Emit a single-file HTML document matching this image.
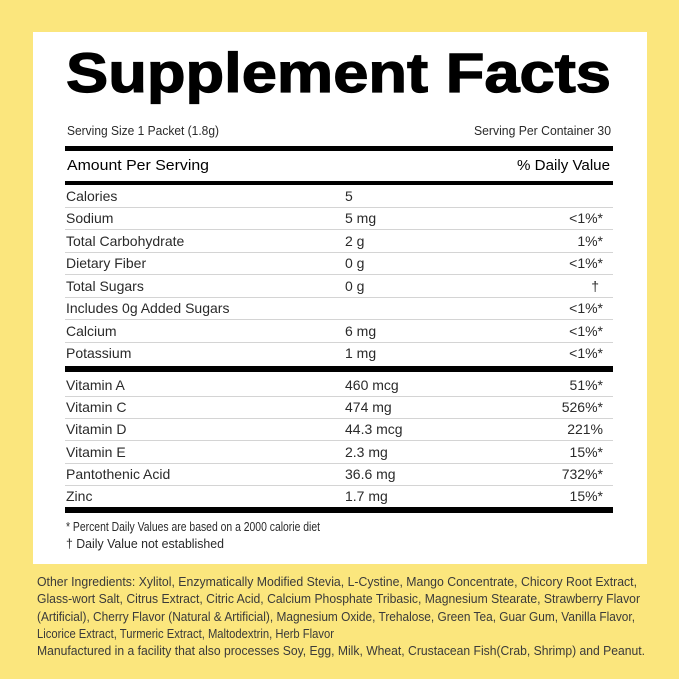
<!DOCTYPE html>
<html><head><meta charset="utf-8"><style>
html,body{margin:0;padding:0;background:#fbe67d;}
svg{display:block}
text{font-family:"Liberation Sans",Arial,sans-serif;fill:#2a2a2a;}
</style></head><body>
<svg width="679" height="679" viewBox="0 0 679 679" xmlns="http://www.w3.org/2000/svg">
<rect width="679" height="679" fill="#fbe67d"/>
<rect x="33" y="32" width="614" height="532" fill="#fff"/>
<text x="66" y="92" font-size="56" font-weight="bold" style="fill:#000;stroke:#000;stroke-width:1.2" textLength="545" lengthAdjust="spacingAndGlyphs">Supplement Facts</text>
<g font-size="12.5">
<text x="67" y="135" textLength="152" lengthAdjust="spacingAndGlyphs">Serving Size 1 Packet (1.8g)</text>
<text x="611" y="135" text-anchor="end" textLength="137" lengthAdjust="spacingAndGlyphs">Serving Per Container 30</text>
</g>
<rect x="65" y="146" width="548" height="5" fill="#000"/>
<g font-size="15">
<text x="67" y="170" textLength="142" lengthAdjust="spacingAndGlyphs" style="fill:#000">Amount Per Serving</text>
<text x="610" y="170" text-anchor="end" textLength="93" lengthAdjust="spacingAndGlyphs" style="fill:#000">% Daily Value</text>
</g>
<rect x="65" y="181" width="548" height="4" fill="#000"/>
<g stroke="#d4d4d4" stroke-width="1">
<line x1="65" x2="613" y1="207.5" y2="207.5"/>
<line x1="65" x2="613" y1="229.5" y2="229.5"/>
<line x1="65" x2="613" y1="252.5" y2="252.5"/>
<line x1="65" x2="613" y1="274.5" y2="274.5"/>
<line x1="65" x2="613" y1="297.5" y2="297.5"/>
<line x1="65" x2="613" y1="319.5" y2="319.5"/>
<line x1="65" x2="613" y1="342.5" y2="342.5"/>
<line x1="65" x2="613" y1="396.5" y2="396.5"/>
<line x1="65" x2="613" y1="418.5" y2="418.5"/>
<line x1="65" x2="613" y1="440.5" y2="440.5"/>
<line x1="65" x2="613" y1="463.5" y2="463.5"/>
<line x1="65" x2="613" y1="485.5" y2="485.5"/>
</g>
<rect x="65" y="366" width="548" height="6" fill="#000"/>
<rect x="65" y="507" width="548" height="6" fill="#000"/>
<g font-size="14">
<text x="66" y="201">Calories</text><text x="345" y="201">5</text>
<text x="66" y="223">Sodium</text><text x="345" y="223">5 mg</text><text x="603" y="223" text-anchor="end">&lt;1%*</text>
<text x="66" y="246">Total Carbohydrate</text><text x="345" y="246">2 g</text><text x="603" y="246" text-anchor="end">1%*</text>
<text x="66" y="268">Dietary Fiber</text><text x="345" y="268">0 g</text><text x="603" y="268" text-anchor="end">&lt;1%*</text>
<text x="66" y="291">Total Sugars</text><text x="345" y="291">0 g</text><text x="599" y="291" text-anchor="end">†</text>
<text x="66" y="313">Includes 0g Added Sugars</text><text x="603" y="313" text-anchor="end">&lt;1%*</text>
<text x="66" y="336">Calcium</text><text x="345" y="336">6 mg</text><text x="603" y="336" text-anchor="end">&lt;1%*</text>
<text x="66" y="358">Potassium</text><text x="345" y="358">1 mg</text><text x="603" y="358" text-anchor="end">&lt;1%*</text>
<text x="66" y="390">Vitamin A</text><text x="345" y="390">460 mcg</text><text x="603" y="390" text-anchor="end">51%*</text>
<text x="66" y="412">Vitamin C</text><text x="345" y="412">474 mg</text><text x="603" y="412" text-anchor="end">526%*</text>
<text x="66" y="434">Vitamin D</text><text x="345" y="434">44.3 mcg</text><text x="603" y="434" text-anchor="end">221%</text>
<text x="66" y="457">Vitamin E</text><text x="345" y="457">2.3 mg</text><text x="603" y="457" text-anchor="end">15%*</text>
<text x="66" y="479">Pantothenic Acid</text><text x="345" y="479">36.6 mg</text><text x="603" y="479" text-anchor="end">732%*</text>
<text x="66" y="501">Zinc</text><text x="345" y="501">1.7 mg</text><text x="603" y="501" text-anchor="end">15%*</text>
</g>
<g font-size="13">
<text x="66" y="531" textLength="254" lengthAdjust="spacingAndGlyphs">* Percent Daily Values are based on a 2000 calorie diet</text>
<text x="66" y="548" textLength="158" lengthAdjust="spacingAndGlyphs">† Daily Value not established</text>
</g>
<g font-size="12.5">
<text x="37" y="586" textLength="600" lengthAdjust="spacingAndGlyphs" style="fill:#3a3a3a">Other Ingredients: Xylitol, Enzymatically Modified Stevia, L-Cystine, Mango Concentrate, Chicory Root Extract,</text>
<text x="37" y="603" textLength="603" lengthAdjust="spacingAndGlyphs" style="fill:#3a3a3a">Glass-wort Salt, Citrus Extract, Citric Acid, Calcium Phosphate Tribasic, Magnesium Stearate, Strawberry Flavor</text>
<text x="37" y="621" textLength="598" lengthAdjust="spacingAndGlyphs" style="fill:#3a3a3a">(Artificial), Cherry Flavor (Natural &amp; Artificial), Magnesium Oxide, Trehalose, Green Tea, Guar Gum, Vanilla Flavor,</text>
<text x="37" y="638" textLength="297" lengthAdjust="spacingAndGlyphs" style="fill:#3a3a3a">Licorice Extract, Turmeric Extract, Maltodextrin, Herb Flavor</text>
<text x="37" y="655" textLength="608" lengthAdjust="spacingAndGlyphs" style="fill:#3a3a3a">Manufactured in a facility that also processes Soy, Egg, Milk, Wheat, Crustacean Fish(Crab, Shrimp) and Peanut.</text>
</g>
</svg>
</body></html>
